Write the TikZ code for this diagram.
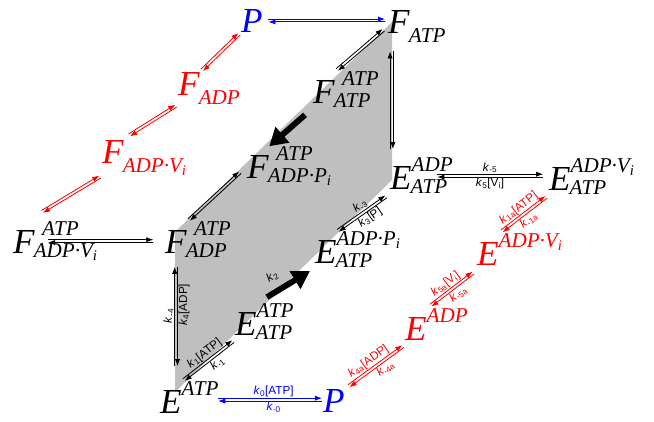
\documentclass[tikz,border=0pt]{standalone}
\usepackage{fontspec}
\setmainfont{Liberation Serif}
\setsansfont{Liberation Sans}
\usepackage{tikz}
\usetikzlibrary{arrows.meta, calc}

% species: big letter, scripts hang to the right
\newcommand\scr{\fontsize{18}{18}\selectfont\itshape}
\newcommand\sps[4]{% letter, kern of upper script, upper, lower
  \textit{#1}%
  \rlap{\scr\kern#2\raisebox{15pt}{#3}}%
  \if\relax\detokenize{#3}\relax
    \rlap{\scr\kern-1pt\raisebox{-8pt}{#4}}%
  \else
    \rlap{\scr\kern-1pt\raisebox{-4pt}{#4}}%
  \fi}
\newcommand\kk[1]{\textit{k}\textsubscript{#1}}
% equilibrium: two offset half arrows
\newcommand\eqarr[5][]{%
  \draw[arr,#1,shorten <=#4,shorten >=#5] ($#2!1.2pt!90:#3$) -- ($#3!1.2pt!-90:#2$);
  \draw[arr,#1,shorten <=#5,shorten >=#4] ($#3!1.2pt!90:#2$) -- ($#2!1.2pt!-90:#3$);}

\begin{document}
\begin{tikzpicture}[x=0.03cm, y=-0.03cm,
   sp/.style={anchor=base west, inner sep=0pt, font=\fontsize{30}{34}\selectfont},
   arr/.style={-{Latex[length=6pt,width=4.5pt]}, line width=0.7pt},
   big/.style={-{Triangle[length=15pt,width=17pt]}, line width=5pt},
   lab/.style={font=\sffamily\fontsize{10}{11}\selectfont, inner sep=2pt, sloped}]

  \useasboundingbox (0,0) rectangle (654,421);
  \fill[gray!50] (175,392) -- (175,232) -- (392,22) -- (392,180) -- cycle;

  % top face
  \node[sp, blue] (Ptop) at (241,32) {\textit{P}};
  \node[sp] (Fatp) at (388,33) {\sps{F}{6pt}{}{ATP}};
  \node[sp] (Fatpatp) at (313,103) {\sps{F}{6pt}{ATP}{ATP}};
  \node[sp] (Fatpadppi) at (247,178) {\sps{F}{6pt}{ATP}{ADP·P\textsubscript{i}}};
  \node[sp] (Fatpadp) at (165,253) {\sps{F}{6pt}{ATP}{ADP}};
  \node[sp] (Fatpadpvi) at (13,253) {\sps{F}{6pt}{ATP}{ADP·V\textsubscript{i}}};
  \node[sp, red] (Fadp) at (178,95) {\sps{F}{6pt}{}{ADP}};
  \node[sp, red] (Fadpvi) at (102,163) {\sps{F}{6pt}{}{ADP·V\textsubscript{i}}};

  % bottom face
  \node[sp] (Eadpatp) at (390,189) {\sps{E}{0pt}{ADP}{ATP}};
  \node[sp] (Eadpviatp) at (549,190) {\sps{E}{0pt}{ADP·V\textsubscript{i}}{ATP}};
  \node[sp] (Eadppiatp) at (315,263) {\sps{E}{0pt}{ADP·P\textsubscript{i}}{ATP}};
  \node[sp] (Eatpatp) at (235,335) {\sps{E}{0pt}{ATP}{ATP}};
  \node[sp] (Eatp) at (160,413) {\sps{E}{0pt}{ATP}{}};
  \node[sp, blue] (Pbot) at (323,412) {\textit{P}};
  \node[sp, red] (Eadpvi) at (477,265) {\sps{E}{0pt}{ADP·V\textsubscript{i}}{}};
  \node[sp, red] (Eadp) at (405,340) {\sps{E}{0pt}{ADP}{}};

  % F side
  \eqarr[blue]{(Ptop.east)}{(Ptop.east -| Fatp.west)}{4.7pt}{2.5pt}
  \eqarr[red]{(Ptop.south west)}{(Fadp.north east)}{2pt}{2pt}
  \eqarr[red]{(Fadp.south west)}{([shift={(4,-4)}]Fadpvi.north east)}{2pt}{1pt}
  \eqarr[red]{(Fadpvi.south west)}{([shift={(6,-9)}]Fatpadpvi.north east)}{2pt}{1pt}
  \eqarr{(Fatp.west)}{(Fatpatp.north east)}{5pt}{2pt}
  \eqarr{([xshift=3pt]Fatp.south west)}{([xshift=3pt]Fatp.south west |- Eadpatp.north)}{7.5pt}{7pt}
  \draw[big, shorten <=9pt] (Fatpatp.south west) -- (Fatpadppi.north east);
  \eqarr{(Fatpadppi.west)}{(Fatpadp.north east)}{8pt}{2pt}
  \eqarr{(Fatpadpvi.east)}{(Fatpadpvi.east -| Fatpadp.west)}{11pt}{10pt}

  % ATP binding and hydrolysis
  \eqarr{(Fatpadp.south |- Eatp.north)}{(Fatpadp.south)}{13pt}{7.5pt}
  \path (Fatpadp.south |- Eatp.north) -- (Fatpadp.south)
     node[lab, above, pos=0.53]{\kk{-4}} node[lab, below, pos=0.62]{\kk{4}[ADP]};
  \eqarr{(Eatp.north east)}{(Eatpatp.south west)}{2pt}{2pt}
  \path (Eatp.north east) -- (Eatpatp.south west)
     node[lab, above, pos=0.52]{\kk{1}[ATP]} node[lab, below, pos=0.58]{\kk{-1}};
  \draw[big, shorten <=10pt, shorten >=5pt] (Eatpatp.north east) -- (Eadppiatp.south west)
     node[lab, above=4pt, pos=0.4]{\kk{2}};
  \eqarr{(Eadppiatp.north east)}{(Eadpatp.south west)}{1pt}{4pt}
  \path (Eadppiatp.north east) -- (Eadpatp.south west)
     node[lab, above, pos=0.52]{\kk{-3}} node[lab, below, pos=0.54]{\kk{3}[P]};
  \eqarr{(Eadpatp.east)}{(Eadpatp.east -| Eadpviatp.west)}{21.7pt}{5pt}
  \path (Eadpatp.east) -- (Eadpatp.east -| Eadpviatp.west)
     node[lab, above, pos=0.57]{\kk{-5}} node[lab, below, pos=0.57]{\kk{5}[V\textsubscript{i}]};

  % vanadate branch
  \eqarr[red]{(Eadpvi.north east)}{(Eadpviatp.south west)}{3pt}{3pt}
  \path (Eadpvi.north east) -- (Eadpviatp.south west)
     node[lab, red, above, pos=0.49]{\kk{1a}[ATP]} node[lab, red, below, pos=0.5]{\kk{-1a}};
  \eqarr[red]{(Eadp.north east)}{(Eadpvi.south west)}{4pt}{4pt}
  \path (Eadp.north east) -- (Eadpvi.south west)
     node[lab, red, above, pos=0.47]{\kk{5a}[V\textsubscript{i}]} node[lab, red, below, pos=0.53]{\kk{-5a}};
  \eqarr[red]{(Pbot.north east)}{(Eadp.south west)}{4pt}{2pt}
  \path (Pbot.north east) -- (Eadp.south west)
     node[lab, red, above, pos=0.47]{\kk{4a}[ADP]} node[lab, red, below, pos=0.6]{\kk{-4a}};
  \eqarr[blue]{(Eatp.east)}{(Eatp.east -| Pbot.west)}{31pt}{1pt}
  \path (Eatp.east) -- (Eatp.east -| Pbot.west)
     node[lab, blue, above, pos=0.65]{\kk{0}[ATP]} node[lab, blue, below, pos=0.65]{\kk{-0}};
\end{tikzpicture}
\end{document}
